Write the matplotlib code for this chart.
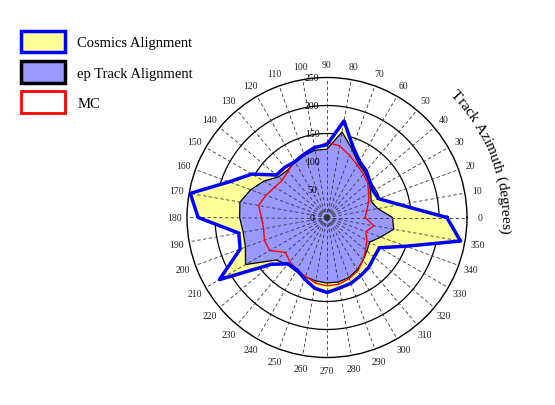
import numpy as np
import matplotlib
matplotlib.use("Agg")
import matplotlib.pyplot as plt
import matplotlib.transforms as mtransforms
from matplotlib.patches import Patch

plt.rcParams['font.family'] = ['Liberation Serif', 'DejaVu Serif']

# Azimuth bins (degrees) and radial values
azimuth = np.arange(0, 360, 10)
cosmics = [214, 132, 98, 95, 100, 109, 116, 135, 175, 130, 127, 120,
           115, 117, 118, 155, 186, 248, 230, 160, 165, 222, 130, 108,
           108, 117, 128, 134, 128, 125, 120, 116, 110, 108, 150, 242]
ep_track = [117, 92, 84, 90, 98, 105, 112, 130, 155, 122, 122, 118,
            114, 110, 113, 130, 145, 158, 156, 152, 155, 168, 118, 110,
            111, 113, 115, 117, 117, 114, 108, 100, 93, 88, 102, 121]
mc = [68, 72, 79, 86, 95, 101, 108, 118, 130, 134, 125, 122,
      116, 108, 104, 108, 116, 124, 117, 115, 119, 118, 97, 103,
      108, 112, 119, 122, 121, 116, 110, 100, 90, 82, 74, 85]
radial_ticks = [0, 50, 100, 150, 200, 250]
legend_labels = ["Cosmics Alignment", "ep Track Alignment", "MC"]
axis_title = "Track Azimuth (degrees)"

fig = plt.figure(figsize=(5.55, 4.06), dpi=100)
ax = fig.add_axes([187 / 555, 47.5 / 406, 280 / 555, 280 / 406], projection='polar')
ax.set_ylim(0, radial_ticks[-1])
ax.grid(False)
ax.set_xticks([])
ax.set_yticks([])
ax.spines['polar'].set_linewidth(1.0)

theta = np.deg2rad(azimuth)
theta_c = np.append(theta, theta[0])

# circles under the fills
ring = np.linspace(0, 2 * np.pi, 361)
for r in radial_ticks[1:-1]:
    ax.plot(ring, np.full_like(ring, r), color='black', lw=0.9, zorder=1)

ax.fill(theta, cosmics, facecolor='#ffff99', edgecolor='none', zorder=2)
ax.fill(theta, ep_track, facecolor='#9999ff', edgecolor='black', lw=0.9, zorder=3)

# dashed spokes drawn over the fills
for t in theta:
    ax.plot([t, t], [0, radial_ticks[-1]], color='#333333', lw=0.6,
            ls=(0, (4, 3)), zorder=4)

ax.plot(theta_c, np.append(mc, mc[0]), color='red', lw=1.0, zorder=5)
ax.plot(theta_c, np.append(cosmics, cosmics[0]), color='blue', lw=2.5, zorder=6)

# radial labels, a bit left of the 90 degree spoke
shift = mtransforms.ScaledTranslation(-0.15, 0, fig.dpi_scale_trans)
for r in radial_ticks:
    ax.text(np.pi / 2, r, str(r), transform=ax.transData + shift,
            ha='center', va='center', fontsize=7, zorder=7, clip_on=False)

# angle labels outside the rim
for a in azimuth:
    ax.text(np.deg2rad(a), 273, str(a), ha='center', va='center',
            fontsize=7, color='#222222', clip_on=False)

# curved axis title along the right side
renderer = fig.canvas.get_renderer()
def text_width(s):
    t = fig.text(0, 0, s, fontsize=11)
    w = t.get_window_extent(renderer).width
    t.remove()
    return w

bar_w = text_width("||")
prefix_w = [text_width("|" + axis_title[:i] + "|") - bar_w for i in range(len(axis_title) + 1)]
radius_px = 174.0
px_to_r = radial_ticks[-1] / 140.0
span = prefix_w[-1] / radius_px
start = np.deg2rad(20) + span / 2
for i, ch in enumerate(axis_title):
    if ch == ' ':
        continue
    mid = (prefix_w[i] + prefix_w[i + 1]) / 2
    ang = start - mid / radius_px
    ax.text(ang, radius_px * px_to_r, ch, rotation=np.rad2deg(ang) - 90,
            rotation_mode='anchor', ha='center', va='baseline',
            fontsize=11, clip_on=False)

handles = [Patch(facecolor='#ffff99', edgecolor='blue', lw=2.5),
           Patch(facecolor='#9999ff', edgecolor='black', lw=2.5),
           Patch(facecolor='white', edgecolor='red', lw=2.0)]
fig.legend(handles, legend_labels, loc='upper left',
           bbox_to_anchor=(21 / 555, 1 - 31.5 / 406), frameon=False, fontsize=10.5,
           handlelength=3.0, handleheight=1.94, handletextpad=0.85,
           labelspacing=0.58, borderpad=0, borderaxespad=0)

fig.savefig("out.png", dpi=100)
